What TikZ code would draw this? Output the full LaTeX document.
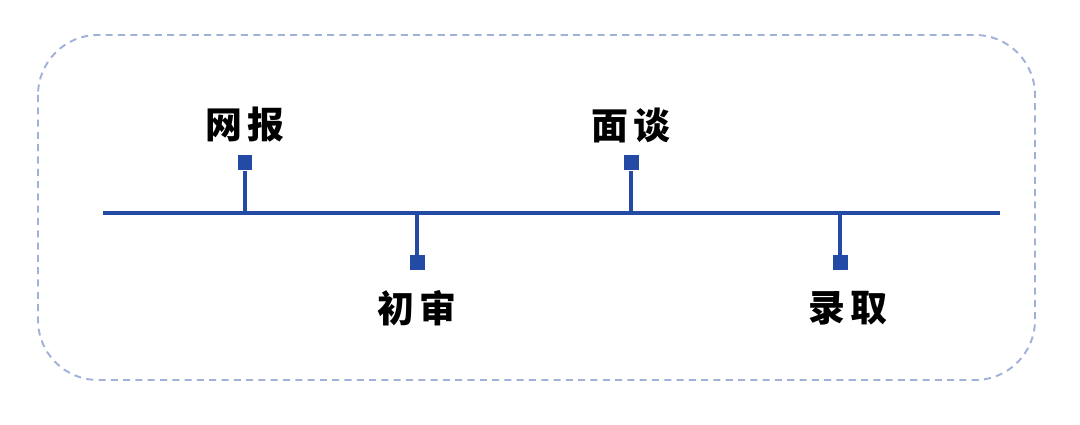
\documentclass[tikz,border=0pt]{standalone}
\usepackage{fontspec}
\newfontfamily\cjk{Noto Sans CJK SC}
\usetikzlibrary{positioning}
\definecolor{lineblue}{RGB}{35,75,165}
\definecolor{frameblue}{RGB}{160,178,215}
\begin{document}
\begin{tikzpicture}[x=0.02cm, y=-0.02cm,
  stop/.style={fill=lineblue, minimum size=0.3cm, inner sep=0pt},
  bar/.style={lineblue, line width=2pt},
  label/.style={font=\cjk\bfseries\fontsize{21}{21}\selectfont, inner sep=0pt}]
\useasboundingbox (0,0) rectangle (1080,425);
\draw[frameblue, dash pattern=on 4pt off 3pt, line width=1.1pt, rounded corners=1.2cm] (38,35) rectangle (1035,380);
\coordinate (s) at (103,213);
\coordinate (e) at (1000,213);
\draw[bar] (s) -- (e);

\node[stop] (a) at (245,163) {};
\node[stop] (b) at (417,263) {};
\node[stop] (c) at (631,163) {};
\node[stop] (d) at (840,263) {};
\coordinate (a0) at (245,213);
\coordinate (b0) at (417,213);
\coordinate (c0) at (631,213);
\coordinate (d0) at (840,213);
\draw[bar] (a0) -- (a);
\draw[bar] (b0) -- (b);
\draw[bar] (c0) -- (c);
\draw[bar] (d0) -- (d);

\node[label] (la) at (245,125) {网\hspace{3pt}报};
\node[label] (lb) at (417,308) {初\hspace{3pt}审};
\node[label] (lc) at (631,125) {面\hspace{3pt}谈};
\node[label] (ld) at (848,308) {录\hspace{3pt}取};
\end{tikzpicture}
\end{document}
